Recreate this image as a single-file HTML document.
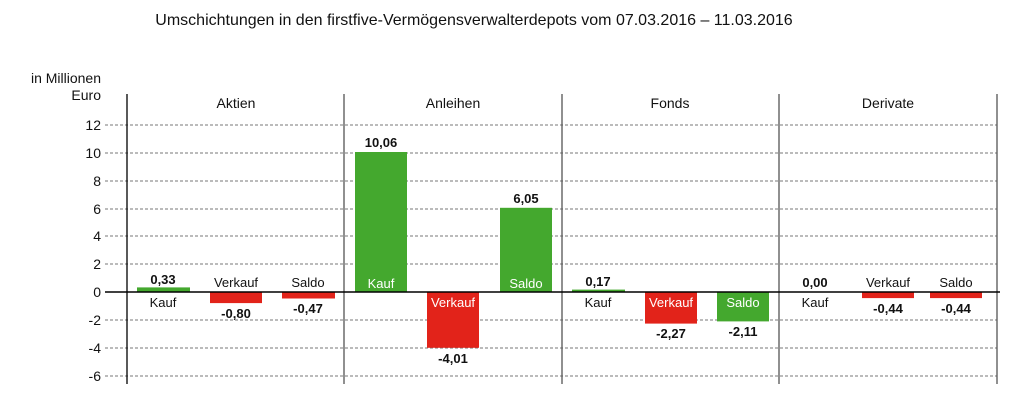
<!DOCTYPE html>
<html><head><meta charset="utf-8"><style>
html,body{margin:0;padding:0;background:#fff;}
svg{display:block;}
text{font-family:"Liberation Sans Narrow","Liberation Sans",Arial,sans-serif;fill:#111;}
.b{font-weight:bold;font-size:13px;}
.l{font-size:13px;}
.w{fill:#fff;font-size:13px;}
.t{font-size:13px;}
</style></head><body>
<svg width="1022" height="414" viewBox="0 0 1022 414">
<text x="474" y="25" text-anchor="middle" style="font-family:'Liberation Sans',Arial,sans-serif;font-size:16px">Umschichtungen in den firstfive-Vermögensverwalterdepots vom 07.03.2016 – 11.03.2016</text>
<text x="101" y="83" text-anchor="end" style="font-family:'Liberation Sans',sans-serif;font-size:14px">in Millionen</text>
<text x="101" y="100" text-anchor="end" style="font-family:'Liberation Sans',sans-serif;font-size:14px">Euro</text>
<g stroke="#777" stroke-width="1" stroke-dasharray="3,2">
<line x1="105" x2="997" y1="125" y2="125"/>
<line x1="105" x2="997" y1="153" y2="153"/>
<line x1="105" x2="997" y1="181" y2="181"/>
<line x1="105" x2="997" y1="209" y2="209"/>
<line x1="105" x2="997" y1="236" y2="236"/>
<line x1="105" x2="997" y1="264" y2="264"/>
<line x1="105" x2="997" y1="320" y2="320"/>
<line x1="105" x2="997" y1="348" y2="348"/>
<line x1="105" x2="997" y1="376" y2="376"/>
</g>
<g class="t" text-anchor="end" style="font-size:14px">
<text x="101" y="130">12</text><text x="101" y="158">10</text><text x="101" y="186">8</text><text x="101" y="214">6</text><text x="101" y="241">4</text><text x="101" y="269">2</text><text x="101" y="297">0</text><text x="101" y="325">-2</text><text x="101" y="353">-4</text><text x="101" y="381">-6</text>
</g>
<g stroke="#555" stroke-width="1.3">
<line x1="127" x2="127" y1="94" y2="384" stroke="#000"/>
<line x1="344" x2="344" y1="94" y2="384"/>
<line x1="562" x2="562" y1="94" y2="384"/>
<line x1="779" x2="779" y1="94" y2="384"/>
<line x1="997" x2="997" y1="94" y2="384"/>
</g>
<g style="font-family:'Liberation Sans',sans-serif;font-size:14px" text-anchor="middle">
<text x="236" y="108">Aktien</text><text x="453" y="108">Anleihen</text><text x="670" y="108">Fonds</text><text x="888" y="108">Derivate</text>
</g>
<g fill="#44a82e">
<rect x="137" y="287.4" width="53" height="4.6"/>
<rect x="355" y="152" width="52" height="140"/>
<rect x="500" y="207.8" width="52" height="84.2"/>
<rect x="572" y="289.6" width="53" height="2.4"/>
<rect x="717" y="292" width="52" height="29.4"/>
</g>
<g fill="#e2231a">
<rect x="210" y="292" width="52" height="11.1"/>
<rect x="282" y="292" width="53" height="6.5"/>
<rect x="427" y="292" width="52" height="55.8"/>
<rect x="645" y="292" width="52" height="31.6"/>
<rect x="862" y="292" width="52" height="6.1"/>
<rect x="930" y="292" width="52" height="6.1"/>
</g>
<line x1="105" x2="1000" y1="292" y2="292" stroke="#000" stroke-width="1.5"/>
<g text-anchor="middle">
<text class="b" x="163" y="284">0,33</text><text class="l" x="163" y="307">Kauf</text>
<text class="l" x="236" y="287">Verkauf</text><text class="b" x="236" y="318">-0,80</text>
<text class="l" x="308" y="287">Saldo</text><text class="b" x="308" y="313">-0,47</text>
<text class="b" x="381" y="147">10,06</text><text class="w" x="381" y="288">Kauf</text>
<text class="w" x="453" y="307">Verkauf</text><text class="b" x="453" y="363">-4,01</text>
<text class="b" x="526" y="203">6,05</text><text class="w" x="526" y="288">Saldo</text>
<text class="b" x="598" y="286">0,17</text><text class="l" x="598" y="307">Kauf</text>
<text class="w" x="671" y="307">Verkauf</text><text class="b" x="671" y="338">-2,27</text>
<text class="w" x="743" y="307">Saldo</text><text class="b" x="743" y="336">-2,11</text>
<text class="b" x="815" y="287">0,00</text><text class="l" x="815" y="307">Kauf</text>
<text class="l" x="888" y="287">Verkauf</text><text class="b" x="888" y="313">-0,44</text>
<text class="l" x="956" y="287">Saldo</text><text class="b" x="956" y="313">-0,44</text>
</g>
</svg>
</body></html>
